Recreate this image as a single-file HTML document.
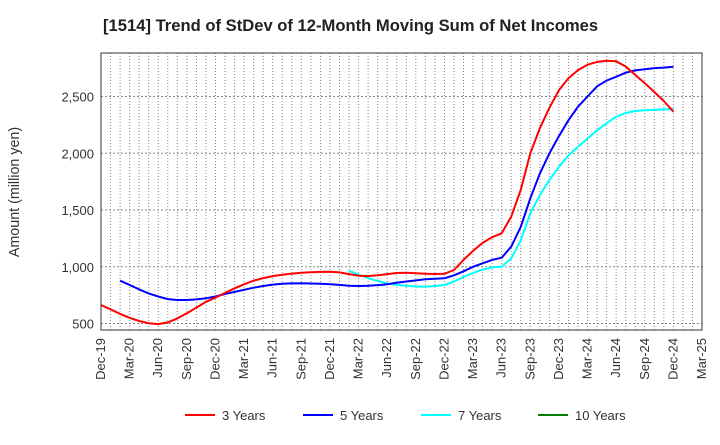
<!DOCTYPE html>
<html><head><meta charset="utf-8"><style>
body{margin:0;background:#fff;font-family:"Liberation Sans",sans-serif}
svg text{font-family:"Liberation Sans",sans-serif}
</style></head><body>
<svg id="chart" width="720" height="440" xmlns="http://www.w3.org/2000/svg">
<text x="103" y="31" font-size="16.6" font-weight="bold" fill="#222">[1514]  Trend of StDev of 12-Month Moving Sum of Net Incomes</text>
<text transform="translate(19,192) rotate(-90)" text-anchor="middle" font-size="14.3" fill="#333">Amount (million yen)</text>
<g id="grid"></g><g id="series"></g><g id="axes"></g>
<g id="legend"></g>
</svg>
<script>
const xLabels=["Dec-19","Mar-20","Jun-20","Sep-20","Dec-20","Mar-21","Jun-21","Sep-21","Dec-21","Mar-22","Jun-22","Sep-22","Dec-22","Mar-23","Jun-23","Sep-23","Dec-23","Mar-24","Jun-24","Sep-24","Dec-24","Mar-25"];
const yTicks=[500,1000,1500,2000,2500];
const red3=[663,625,585,550,522,503,495,510,545,590,640,690,728,770,810,845,877,900,918,930,940,947,952,955,956,950,935,921,918,925,935,945,947,942,938,936,938,971,1060,1140,1210,1260,1295,1441,1676,1999,2220,2400,2555,2660,2733,2780,2805,2815,2810,2764,2690,2617,2540,2460,2366];
const blue5Start=2;
const blue5=[877,840,800,765,738,715,707,707,712,722,738,760,778,797,815,830,843,850,853,854,852,850,846,840,833,830,832,838,845,859,870,880,890,895,898,925,960,1000,1030,1060,1080,1177,1350,1603,1820,1999,2150,2290,2410,2500,2590,2640,2674,2710,2730,2740,2750,2755,2762];
const cyan7Start=26;
const cyan7=[965,930,900,875,854,840,832,826,824,830,839,870,910,945,975,995,1000,1074,1230,1471,1630,1764,1880,1980,2058,2130,2200,2265,2322,2355,2372,2378,2382,2386,2390];
const green10=[];
const legendNames=["3 Years","5 Years","7 Years","10 Years"];
const colors=["#ff0000","#0000ff","#00ffff","#008000"];

const L=101,R=702,T=53,B=330;
const X=m=>L+m*(R-L)/63;
const Y=v=>323.5-(v-500)*0.1135;
const NS="http://www.w3.org/2000/svg";
function mk(tag,attrs,parent){const e=document.createElementNS(NS,tag);for(const k in attrs)e.setAttribute(k,attrs[k]);parent.appendChild(e);return e;}
const grid=document.getElementById('grid'),ser=document.getElementById('series'),axes=document.getElementById('axes'),leg=document.getElementById('legend');
for(let m=1;m<63;m++){const l=mk('line',{x1:X(m),x2:X(m),y1:T,y2:B,stroke:'#888','stroke-width':1,'stroke-dasharray':'1,2'},grid);

}
yTicks.forEach(v=>{const l=mk('line',{x1:L,x2:R,y1:Y(v),y2:Y(v),stroke:'#888','stroke-width':1,'stroke-dasharray':'2,2'},grid);


const t=mk('text',{x:L-7,y:Y(v)+5,'text-anchor':'end','font-size':13,fill:'#333'},axes);


t.textContent=v.toLocaleString('en-US');});
const frame=mk('rect',{x:L,y:T,width:R-L,height:B-T,fill:'none',stroke:'#333','stroke-width':1},axes);


xLabels.forEach((s,i)=>{const x=X(i*3);const t=mk('text',{transform:`translate(${x+4},${B+8}) rotate(-90)`,'text-anchor':'end','font-size':13,fill:'#333'},axes);


t.textContent=s;});
function line(vals,start,color,name){if(!vals.length)return;const p=vals.map((v,i)=>X(start+i).toFixed(1)+','+Y(v).toFixed(1)).join(' ');
const e=mk('polyline',{points:p,fill:'none',stroke:color,'stroke-width':2,'stroke-linejoin':'round'},ser);

}
line(cyan7,cyan7Start,colors[2],'series-7-years');
line(blue5,blue5Start,colors[1],'series-5-years');
line(red3,0,colors[0],'series-3-years');
line(green10,0,colors[3],'series-10-years');
const lx=[185,303,421,538];
legendNames.forEach((n,i)=>{const g=mk('g',{},leg);


mk('line',{x1:lx[i],x2:lx[i]+30,y1:415,y2:415,stroke:colors[i],'stroke-width':2},g);
const t=mk('text',{x:lx[i]+37,y:420,'font-size':13,fill:'#333'},g);
t.textContent=n;});
</script>
</body></html>
